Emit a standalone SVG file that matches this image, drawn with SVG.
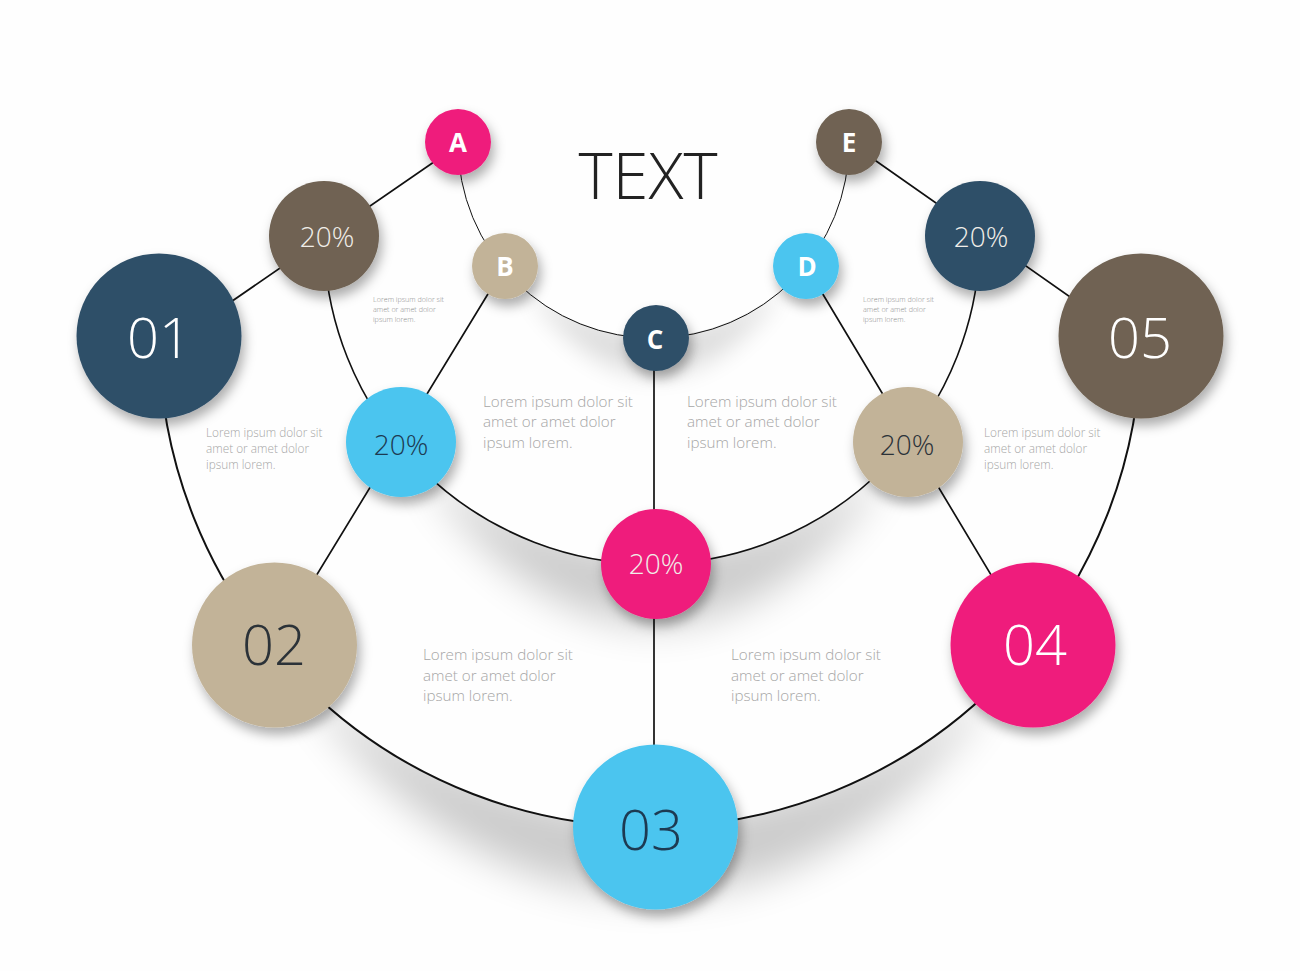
<svg xmlns="http://www.w3.org/2000/svg" width="1300" height="971" viewBox="0 0 1300 971">
<style>
text{font-family:"Open Sans","Liberation Sans",sans-serif;font-weight:300}
.c{filter:url(#ns)}
.navy{fill:#2f4f68}.brown{fill:#6f6253}.beige{fill:#c2b398}.blue{fill:#4bc5ef}.pink{fill:#ef1f7c}
.big{font-size:56px;text-anchor:middle}
.mid{font-size:28px;text-anchor:middle}
.let{font-size:26px;font-weight:700;text-anchor:middle;fill:#fff}
.lt{fill:#fff}.dk{fill:#2b3238}.nv{fill:#1d3a52}.sf{fill:#f1eee9}
.lor{fill:#a6a6a6}
.l1{font-size:15.2px}.l2{font-size:11.8px}.l3{font-size:7.2px;fill:#8d8d8d}
.arc{fill:none;stroke:#111}
</style>
<defs>
<filter id="ns" x="-40%" y="-40%" width="190%" height="190%"><feDropShadow dx="3" dy="7" stdDeviation="6" flood-color="#000" flood-opacity=".32"/></filter>
<filter id="b1" x="-20%" y="-60%" width="140%" height="220%"><feGaussianBlur stdDeviation="20"/></filter>
<filter id="b2" x="-20%" y="-60%" width="140%" height="220%"><feGaussianBlur stdDeviation="12"/></filter>
<clipPath id="outer"><path clip-rule="evenodd" d="M0 0H1300V971H0Z M159 336a491 491 0 1 0 982 0a491 491 0 1 0 -982 0Z"/></clipPath>
<clipPath id="middle"><path clip-rule="evenodd" d="M0 0H1300V971H0Z M324 236a328 328 0 1 0 656 0a328 328 0 1 0 -656 0Z"/></clipPath>
<clipPath id="inner"><path clip-rule="evenodd" d="M0 0H1300V971H0Z M458 142a195 195 0 1 0 390 0a195 195 0 1 0 -390 0Z"/></clipPath>
</defs>
<rect width="1300" height="971" fill="#fefefe"/>
<g id="shadows" fill="#000">
<g clip-path="url(#outer)"><path filter="url(#b1)" opacity=".2" d="M300 680Q460 805 655 818Q850 805 1000 680Q860 890 655 895Q440 890 300 680Z"/></g>
<g clip-path="url(#middle)"><path filter="url(#b1)" opacity=".2" d="M420 465Q530 545 655 554Q780 545 890 465Q790 620 655 625Q520 620 420 465Z"/></g>
<g clip-path="url(#inner)"><path filter="url(#b2)" opacity=".13" d="M525 285Q585 328 655 333Q725 328 785 285Q725 375 655 375Q585 375 525 285Z"/></g>
</g>
<g id="connectors">
<path class="arc" stroke-width="2" d="M159 336A491 491 0 0 0 655 827A491 491 0 0 0 1141 336"/>
<path class="arc" stroke-width="1.6" d="M324 236A328 328 0 0 0 656 564A328 328 0 0 0 980 236"/>
<path class="arc" stroke-width="1" d="M458 142A195 195 0 0 0 656 338A195 195 0 0 0 849 142"/>
<path class="arc" stroke-width="1.7" d="M180 337L460 144M505 266L274 645M654 338V827M806 266L1033 645M849 142L1120 332"/>
</g>
<g id="node-01"><circle class="c navy" cx="159" cy="336" r="82.500"/><text class="big lt" x="159" y="358">01</text></g>
<g id="node-02"><circle class="c beige" cx="274.500" cy="645" r="82.500"/><text class="big dk" x="274" y="665">02</text></g>
<g id="node-03"><circle class="c blue" cx="655.500" cy="827" r="82.500"/><text class="big nv" x="651" y="850">03</text></g>
<g id="node-04"><circle class="c pink" cx="1033" cy="645" r="82.500"/><text class="big lt" x="1035" y="665">04</text></g>
<g id="node-05"><circle class="c brown" cx="1141" cy="336" r="82.500"/><text class="big lt" x="1140" y="358">05</text></g>
<g id="pct-1"><circle class="c brown" cx="324" cy="236" r="55"/><text class="mid sf" x="327" y="247">20%</text></g>
<g id="pct-2"><circle class="c blue" cx="401" cy="442" r="55"/><text class="mid nv" x="401" y="455">20%</text></g>
<g id="pct-3"><circle class="c pink" cx="656" cy="564" r="55"/><text class="mid sf" x="656" y="574">20%</text></g>
<g id="pct-4"><circle class="c beige" cx="908" cy="442" r="55"/><text class="mid dk" x="907" y="455">20%</text></g>
<g id="pct-5"><circle class="c navy" cx="980" cy="236" r="55"/><text class="mid sf" x="981" y="247">20%</text></g>
<g id="node-a"><circle class="c pink" cx="458" cy="142" r="33"/><text class="let" x="458" y="152">A</text></g>
<g id="node-b"><circle class="c beige" cx="505" cy="266" r="33"/><text class="let" x="505" y="276">B</text></g>
<g id="node-c"><circle class="c navy" cx="656" cy="338" r="33"/><text class="let" x="655" y="349">C</text></g>
<g id="node-d"><circle class="c blue" cx="806" cy="266" r="33"/><text class="let" x="807" y="276">D</text></g>
<g id="node-e"><circle class="c brown" cx="849" cy="142" r="33"/><text class="let" x="849" y="152">E</text></g>
<text x="648" y="199" font-size="65" text-anchor="middle" fill="#222">TEXT</text>
<g id="captions" class="lor">
<text class="l3" x="373" y="302">Lorem ipsum dolor sit</text><text class="l3" x="373" y="312">amet or amet dolor</text><text class="l3" x="373" y="322">ipsum lorem.</text>
<text class="l3" x="863" y="302">Lorem ipsum dolor sit</text><text class="l3" x="863" y="312">amet or amet dolor</text><text class="l3" x="863" y="322">ipsum lorem.</text>
<text class="l2" x="206" y="437">Lorem ipsum dolor sit</text><text class="l2" x="206" y="453">amet or amet dolor</text><text class="l2" x="206" y="469">ipsum lorem.</text>
<text class="l2" x="984" y="437">Lorem ipsum dolor sit</text><text class="l2" x="984" y="453">amet or amet dolor</text><text class="l2" x="984" y="469">ipsum lorem.</text>
<text class="l1" x="483" y="407">Lorem ipsum dolor sit</text><text class="l1" x="483" y="427">amet or amet dolor</text><text class="l1" x="483" y="448">ipsum lorem.</text>
<text class="l1" x="687" y="407">Lorem ipsum dolor sit</text><text class="l1" x="687" y="427">amet or amet dolor</text><text class="l1" x="687" y="448">ipsum lorem.</text>
<text class="l1" x="423" y="660">Lorem ipsum dolor sit</text><text class="l1" x="423" y="681">amet or amet dolor</text><text class="l1" x="423" y="701">ipsum lorem.</text>
<text class="l1" x="731" y="660">Lorem ipsum dolor sit</text><text class="l1" x="731" y="681">amet or amet dolor</text><text class="l1" x="731" y="701">ipsum lorem.</text>
</g>
</svg>
